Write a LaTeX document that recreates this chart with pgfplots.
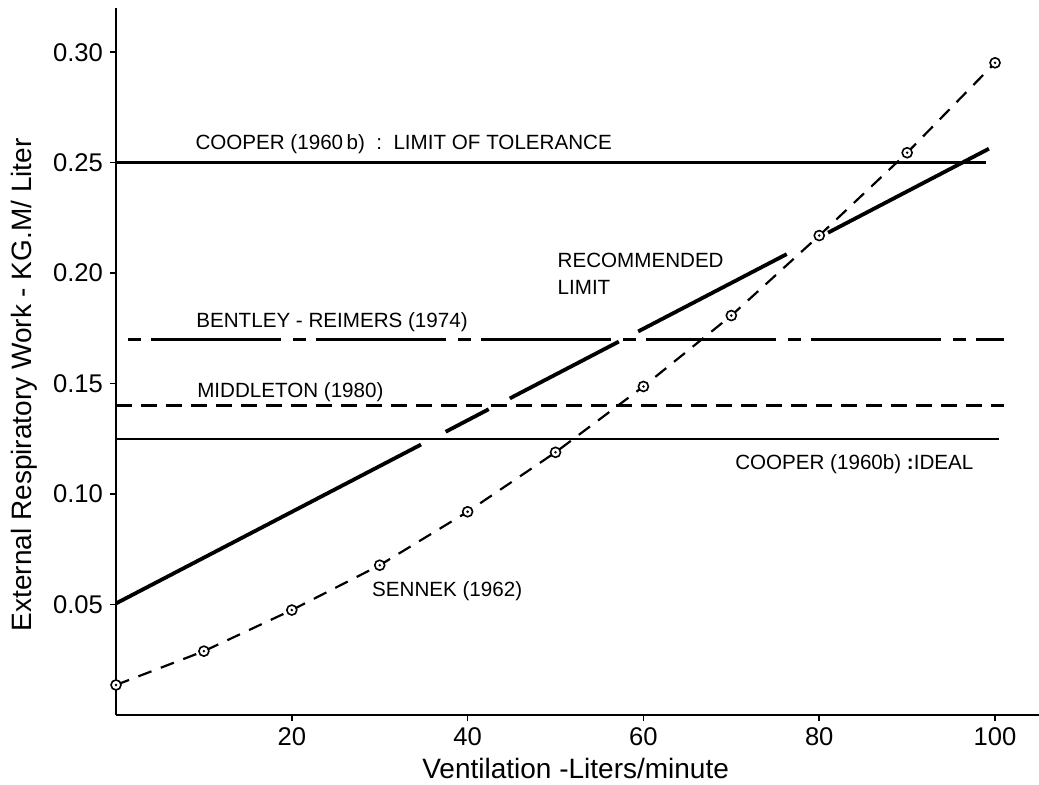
\documentclass[border=0pt]{standalone}
\usepackage{fontspec}
\setmainfont{Liberation Sans}
\usepackage{pgfplots}
\pgfplotsset{compat=1.18}
\pgfdeclareplotmark{odot}{%
  \pgfpathcircle{\pgfpointorigin}{\pgfplotmarksize}%
  \pgfsetfillcolor{white}\pgfusepathqfillstroke
  \pgfpathcircle{\pgfpointorigin}{0.28\pgfplotmarksize}%
  \pgfsetfillcolor{black}\pgfusepathqfill}
\newcommand{\lab}{\fontsize{10.3}{12}\selectfont}
\begin{document}
\begin{tikzpicture}
\useasboundingbox (-58pt,-34.5pt) rectangle (461.5pt,357.5pt);
\begin{axis}[
  scale only axis, width=461.5pt, height=353.5pt,
  xmin=0, xmax=105, ymin=0, ymax=0.32,
  axis x line=bottom, axis y line=left,
  axis line style={-, line width=1pt},
  xtick={20,40,60,80,100},
  ytick={0.05,0.1,0.15,0.2,0.25,0.3},
  tick align=outside, major tick length=3pt,
  tick style={line width=0.8pt, black},
  /pgf/number format/assume math mode=true,
  yticklabel style={/pgf/number format/fixed, /pgf/number format/fixed zerofill, /pgf/number format/precision=2},
  ticklabel style={font=\fontsize{12.8}{14}\selectfont},
  xlabel={Ventilation -Liters/minute},
  ylabel={External Respiratory Work - KG.M/ Liter},
  label style={font=\fontsize{14}{16}\selectfont},
  xlabel style={at={(axis description cs:0.498,-0.075)}, anchor=center},
  ylabel style={at={(axis description cs:-0.0997,0.467)}, anchor=center},
  clip=false,
]
% Cooper (1960b): limit of tolerance
\addplot[black, line width=1.4pt] coordinates {(0,0.25) (99,0.25)};
% Cooper (1960b): ideal
\addplot[black, line width=1.3pt] coordinates {(0,0.125) (100.5,0.125)};
% Bentley-Reimers (1974)
\addplot[black, line width=1.3pt, dash pattern=on 6.5pt off 5pt on 65pt off 6pt, dash phase=76.5pt] coordinates {(0,0.17) (101,0.17)};
% Middleton (1980)
\addplot[black, line width=1.3pt, dash pattern=on 8pt off 4.5pt] coordinates {(0,0.14) (101,0.14)};
% Recommended limit (segments)
\addplot[black, line width=1.9pt] coordinates {(0,0.0505) (34.7,0.1224)};
\addplot[black, line width=1.9pt] coordinates {(37.5,0.1282) (42.4,0.1384)};
\addplot[black, line width=1.9pt] coordinates {(44.8,0.1433) (57.2,0.1690)};
\addplot[black, line width=1.9pt] coordinates {(59.4,0.1736) (76.3,0.2086)};
\addplot[black, line width=1.9pt] coordinates {(81.0,0.2183) (99.3,0.2563)};
% Sennek (1962)
\addplot[black, line width=1.1pt, dash pattern=on 7pt off 5pt, mark=odot, mark size=2.5pt, mark options={solid, line width=0.8pt}] coordinates {
(0,0.0136) (10,0.0289) (20,0.0475) (30,0.0678) (40,0.092) (50,0.1189)
(60,0.1487) (70,0.1808) (80,0.217) (90,0.2545) (100,0.2952)};
% labels
\node[anchor=base west, font=\lab, inner sep=0pt] at (axis cs:9,0.2559) {COOPER (1960\,b)\ \ :\ \ LIMIT OF TOLERANCE};
\node[anchor=base west, font=\lab, inner sep=0pt] at (axis cs:50.2,0.2025) {RECOMMENDED};
\node[anchor=base west, font=\lab, inner sep=0pt] at (axis cs:50.2,0.1903) {LIMIT};
\node[anchor=base west, font=\lab, inner sep=0pt] at (axis cs:9.1,0.1754) {BENTLEY - REIMERS (1974)};
\node[anchor=base west, font=\lab, inner sep=0pt] at (axis cs:9.2,0.1437) {MIDDLETON (1980)};
\node[anchor=base west, font=\lab, inner sep=0pt] at (axis cs:70.4,0.111) {COOPER (1960b) {\bfseries:}IDEAL};
\node[anchor=base west, font=\lab, inner sep=0pt] at (axis cs:29.1,0.0538) {SENNEK (1962)};
\end{axis}
\end{tikzpicture}
\end{document}
